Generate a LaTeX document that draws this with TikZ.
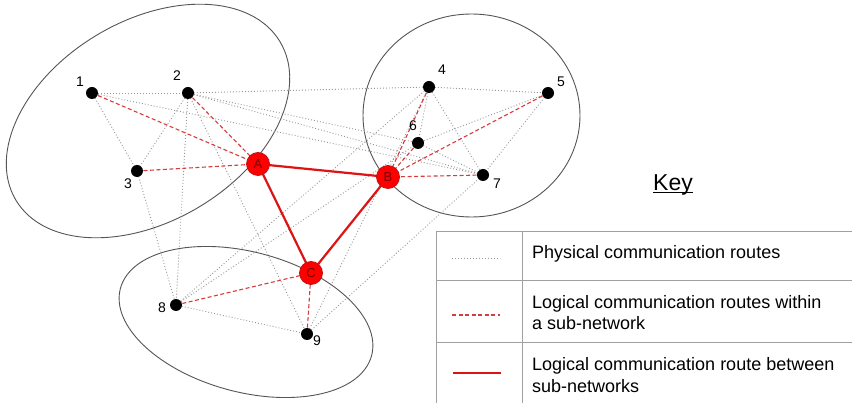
\documentclass[tikz,border=0pt]{standalone}
\usepackage{fontspec}
\setmainfont{Liberation Sans}
\usetikzlibrary{backgrounds}

\definecolor{phys}{RGB}{150,150,150}
\definecolor{logred}{RGB}{214,60,60}
\definecolor{solidred}{RGB}{222,20,20}
\definecolor{nodered}{RGB}{255,0,0}
\definecolor{nodeborder}{RGB}{190,20,20}
\definecolor{letter}{RGB}{120,0,0}
\definecolor{ellc}{RGB}{85,85,85}
\definecolor{tabc}{RGB}{160,160,160}

\begin{document}
\begin{tikzpicture}[x=1pt,y=1pt,
 dot/.style={circle,fill=black,inner sep=0pt,minimum size=12pt},
 hub/.style={circle,fill=nodered,draw=nodeborder,line width=0.8pt,inner sep=0pt,minimum size=23pt,font=\fontsize{13}{13}\selectfont,text=letter},
 lbl/.style={font=\fontsize{14}{14}\selectfont,inner sep=0pt},
 physline/.style={draw=phys,line width=0.9pt,dash pattern=on 0.9pt off 2.1pt},
 logline/.style={draw=logred,line width=1.1pt,dash pattern=on 4pt off 2.5pt},
 interline/.style={draw=solidred,line width=2.2pt},
 region/.style={draw=ellc,line width=0.9pt},
 keytext/.style={font=\fontsize{18}{18}\selectfont,anchor=base west,inner sep=0pt},
 tabline/.style={draw=tabc,line width=1pt}]

\useasboundingbox (0,0) rectangle (852,-403);

% nodes
\node[dot] (n1) at (92,-93) {};
\node[dot] (n2) at (188,-93) {};
\node[dot] (n3) at (137,-171) {};
\node[dot] (n4) at (429,-87) {};
\node[dot] (n5) at (548,-93) {};
\node[dot] (n6) at (418,-143) {};
\node[dot] (n7) at (483,-175) {};
\node[dot] (n8) at (176,-305) {};
\node[dot] (n9) at (307,-334) {};
\node[hub] (nA) at (258,-164) {A};
\node[hub] (nB) at (388,-177) {B};
\node[hub] (nC) at (311,-273) {C};

% labels
\node[lbl] (l1) at (80,-82) {1};
\node[lbl] (l2) at (177,-76) {2};
\node[lbl] (l3) at (128,-184) {3};
\node[lbl] (l4) at (442,-70) {4};
\node[lbl] (l5) at (561,-82) {5};
\node[lbl] (l6) at (413,-126) {6};
\node[lbl] (l7) at (497,-184) {7};
\node[lbl] (l8) at (162,-308) {8};
\node[lbl] (l9) at (317,-341) {9};

% key
\node[font=\fontsize{23}{23}\selectfont,anchor=base west,inner sep=0pt] (key) at (653,-190.5) {Key};
\draw[line width=1.1pt] ([yshift=-2.3pt]key.base west) -- ([yshift=-2.3pt]key.base east);

\node[keytext] (k1) at (532,-259) {Physical communication routes};
\node[keytext] (k2a) at (532,-308.5) {Logical communication routes within};
\node[keytext] (k2b) at (532,-330) {a sub-network};
\node[keytext] (k3a) at (532,-370.5) {Logical communication route between};
\node[keytext] (k3b) at (532,-392) {sub-networks};

\begin{pgfonlayer}{background}
\fill[white] (0,0) rectangle (852,-403);

% regions
\draw[region,rotate around={31:(148,-121)}] (148,-121) ellipse [x radius=154, y radius=100];
\draw[region] (471.5,-115.5) ellipse [x radius=108.5, y radius=101.5];
\draw[region,rotate around={-15:(246,-322)}] (246,-322) ellipse [x radius=130, y radius=70];

% table
\draw[tabline] (436,-232) -- (852,-232);
\draw[tabline] (436,-281) -- (852,-281);
\draw[tabline] (436,-343) -- (852,-343);
\draw[tabline] (436,-232) -- (436,-403);
\draw[tabline] (522,-232) -- (522,-403);
\draw[physline] (452,-258) -- (500,-258);
\draw[logline] (452,-315) -- (500,-315);
\draw[interline] (453,-373) -- (501,-373);

% physical routes
\foreach \a/\b in {n1/n2,n1/n3,n2/n3,n2/n4,n2/n6,n2/n7,n1/n7,n2/n8,n2/n9,n3/n8,
                   n4/n5,n4/n6,n4/n7,n5/n6,n5/n7,n6/n7,n8/n9,n8/n4,n8/n6,n9/n4,n9/n7}
  \draw[physline] (\a.center) -- (\b.center);

% logical routes within sub-networks
\foreach \a/\b in {n1/nA,n2/nA,n3/nA,n4/nB,n5/nB,n6/nB,n7/nB,n8/nC,n9/nC}
  \draw[logline] (\a.center) -- (\b.center);

% logical routes between sub-networks
\draw[interline] (nA.center) -- (nB.center);
\draw[interline] (nB.center) -- (nC.center);
\draw[interline] (nC.center) -- (nA.center);
\end{pgfonlayer}
\end{tikzpicture}
\end{document}
